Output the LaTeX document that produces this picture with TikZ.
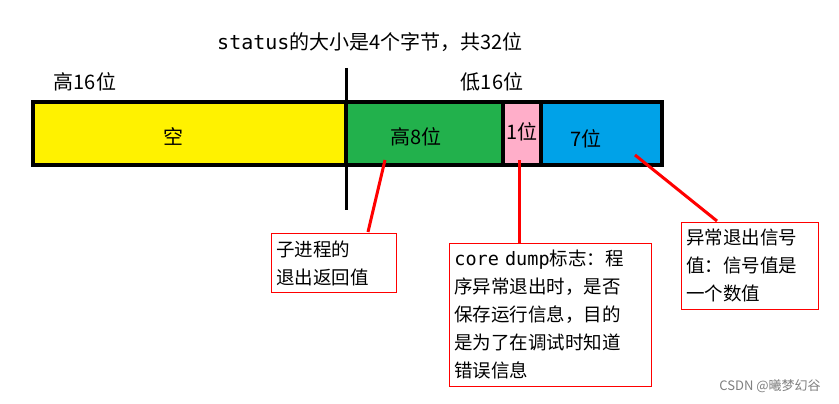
\documentclass[tikz,border=0pt]{standalone}
\usepackage{fontspec}
\newfontfamily\cjk{Noto Sans CJK SC}
\setmonofont{DejaVu Sans Mono}
\definecolor{segyellow}{HTML}{FFF200}
\definecolor{seggreen}{HTML}{22B14C}
\definecolor{segpink}{HTML}{FFAEC9}
\definecolor{segblue}{HTML}{00A2E8}
\begin{document}
\begin{tikzpicture}[x=1pt,y=-1pt,
  seg/.style={draw=black, line width=4pt},
  lbl/.style={font=\cjk\fontsize{20}{24}\selectfont},
  note/.style={draw=red, line width=0.8pt, align=left, inner xsep=5pt, inner ysep=7pt, anchor=north west, font=\cjk\fontsize{18.5}{28}\selectfont},
  pointer/.style={draw=red, line width=3pt}]
\useasboundingbox (0,0) rectangle (839,404);
\fill[white] (0,0) rectangle (839,404);

% bar segments
\filldraw[fill=segyellow, seg] (33,102) rectangle (346,165);
\filldraw[fill=seggreen, seg] (346,102) rectangle (503,165);
\filldraw[fill=segpink, seg] (503,102) rectangle (541,165);
\filldraw[fill=segblue, seg] (541,102) rectangle (662,165);
\draw[line width=3pt] (346,68) -- (346,210);

\node[lbl] (title) at (370,42) {\texttt{status}的大小是4个字节，共32位};
\node[lbl] (hi) at (85,82) {高16位};
\node[lbl] (lo) at (492,82) {低16位};
\node[lbl] (empty) at (173,137) {空};
\node[lbl] (hi8) at (416,137) {高8位};
\node[lbl] (one) at (522,132) {1位};
\node[lbl] (seven) at (586,139) {7位};

% notes
\node[note, text width=115pt] (exitval) at (271,233) {子进程的\\退出返回值};
\node[note, text width=192pt] (core) at (449,243) {\texttt{core dump}标志：程\\序异常退出时，是否\\保存运行信息，目的\\是为了在调试时知道\\错误信息};
\node[note, text width=127pt] (sig) at (681,222) {异常退出信号\\值：信号值是\\一个数值};

\coordinate (p1) at (385,160);
\coordinate (p2) at (519,160);
\coordinate (p3) at (635,155);
\draw[pointer] (p1) -- (368,232);
\draw[pointer] (p2) -- (core.north -| p2);
\draw[pointer] (p3) -- (717,221);

\node[font=\cjk\fontsize{13}{15}\selectfont, text=gray] (mark) at (770,386) {CSDN @曦梦幻谷};
\end{tikzpicture}
\end{document}
